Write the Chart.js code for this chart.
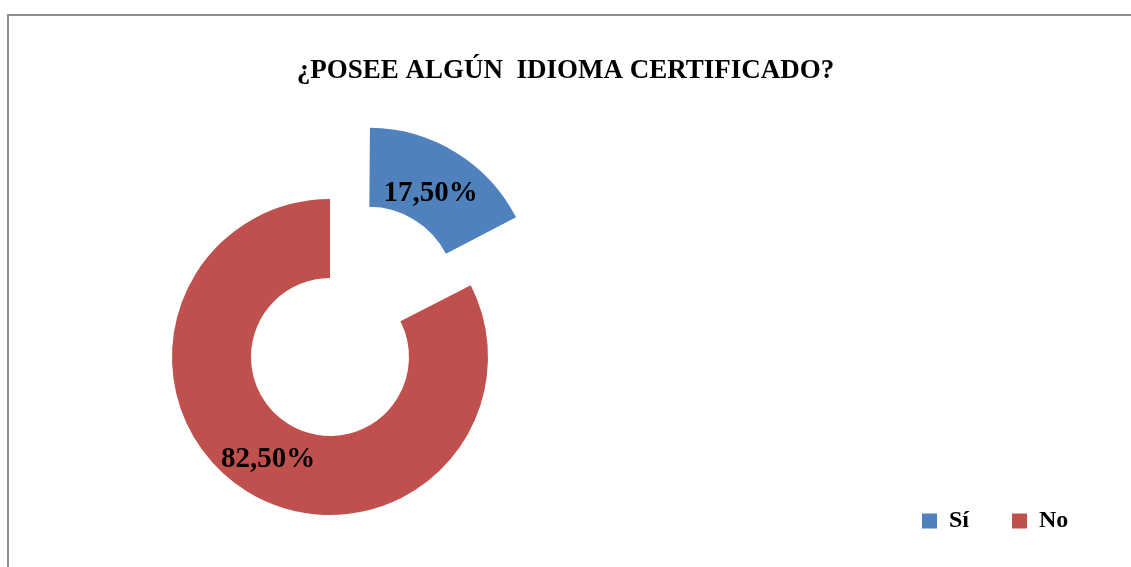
<!DOCTYPE html>
<html>
<head>
<meta charset="utf-8">
<script src="https://cdn.jsdelivr.net/npm/chart.js"></script>
<style>
  body { margin: 0; background: #fff; }
  #wrap { position: relative; width: 1131px; height: 567px; overflow: hidden; }
  #frame { position: absolute; left: 7px; top: 14px; width: 1200px; height: 600px;
           border-left: 2px solid #8e8e8e; border-top: 2px solid #8e8e8e; pointer-events: none; }
</style>
</head>
<body>
<div id="wrap">
  <canvas id="chart" width="1131" height="567"></canvas>
  <div id="frame"></div>
</div>
<script>
const labels = ['Sí', 'No'];
const percents = [17.5, 82.5];
const colors = ['#4F81BD', '#C0504D'];
const chartTitle = '¿POSEE ALGÚN  IDIOMA CERTIFICADO?';

const serif = "'Liberation Serif', 'DejaVu Serif', serif";

// put the ring and the legend where the picture has them
const placePieces = {
  id: 'placePieces',
  afterLayout(chart) {
    const cx = 330, cy = 357, half = 200;
    chart.chartArea = {left: cx - half, top: cy - half, right: cx + half, bottom: cy + half,
                       width: half * 2, height: half * 2};
    const lg = chart.legend;
    const p = lg.options.labels.padding;
    const w = lg.width, h = lg.height;
    lg.left = 922 - p;
    lg.right = lg.left + w;
    lg.top = 521 - 12 - p;
    lg.bottom = lg.top + h;
  }
};

// percentage text in the middle of each slice
const sliceLabels = {
  id: 'sliceLabels',
  afterDatasetsDraw(chart) {
    const ctx = chart.ctx;
    const meta = chart.getDatasetMeta(0);
    ctx.save();
    ctx.font = "bold 29px " + serif;
    ctx.fillStyle = '#000';
    ctx.textAlign = 'center';
    ctx.textBaseline = 'middle';
    meta.data.forEach((arc, i) => {
      const mid = (arc.startAngle + arc.endAngle) / 2;
      const shift = (arc.options.offset || 0) / 4;
      const r = (arc.innerRadius + arc.outerRadius) / 2 + shift;
      const txt = percents[i].toFixed(2).replace('.', ',') + '%';
      ctx.fillText(txt, arc.x + Math.cos(mid) * r, arc.y + Math.sin(mid) * r + 1);
    });
    ctx.restore();
  }
};

new Chart(document.getElementById('chart'), {
  type: 'doughnut',
  data: {
    labels: labels,
    datasets: [{
      data: percents,
      backgroundColor: colors,
      borderWidth: 0,
      offset: [296, 0],
      clip: false
    }]
  },
  options: {
    responsive: false,
    animation: false,
    radius: 158,
    cutout: '50%',
    layout: { padding: 0 },
    plugins: {
      title: {
        display: true,
        text: chartTitle,
        color: '#000',
        font: { family: serif, size: 27, weight: 'bold' },
        padding: { top: 55, bottom: 10 }
      },
      legend: {
        position: 'bottom',
        align: 'start',
        labels: {
          boxWidth: 15,
          boxHeight: 15,
          padding: 43,
          color: '#000',
          font: { family: serif, size: 24, weight: 'bold' }
        }
      },
      tooltip: { enabled: false }
    }
  },
  plugins: [placePieces, sliceLabels]
});
</script>
</body>
</html>
